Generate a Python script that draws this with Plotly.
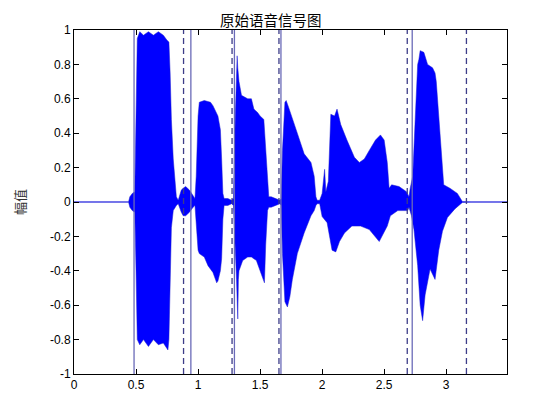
import plotly.graph_objects as go

# Upper envelope of the speech waveform (time s, amplitude)
t_up = [0, 0.44, 0.45, 0.47, 0.49, 0.50, 0.505, 0.51, 0.53, 0.56, 0.60, 0.64, 0.68, 0.72, 0.75, 0.765,
        0.775, 0.785, 0.80, 0.815, 0.825, 0.84, 0.865, 0.88, 0.90, 0.93, 0.96, 0.975, 0.985, 1.0, 1.01,
        1.05, 1.10, 1.12, 1.16, 1.18, 1.19, 1.20, 1.21, 1.24, 1.27, 1.285, 1.30, 1.315, 1.32, 1.33, 1.35,
        1.37, 1.40, 1.43, 1.45, 1.48, 1.50, 1.53, 1.545, 1.56, 1.57, 1.59, 1.62, 1.66, 1.67, 1.68, 1.70,
        1.71, 1.73, 1.76, 1.80, 1.855, 1.91, 1.936, 1.95, 1.96, 1.98, 2.00, 2.02, 2.03, 2.05, 2.07, 2.10,
        2.12, 2.15, 2.20, 2.26, 2.30, 2.34, 2.38, 2.43, 2.47, 2.50, 2.525, 2.54, 2.56, 2.62, 2.68, 2.70,
        2.71, 2.73, 2.75, 2.77, 2.78, 2.79, 2.82, 2.85, 2.89, 2.91, 2.92, 2.94, 2.97, 2.98, 3.03, 3.09,
        3.13, 3.2, 3.49]
v_up = [0.001, 0.001, 0.03, 0.05, 0.06, 0.5, 0.9, 0.95, 0.99, 0.97, 0.99, 0.97, 0.99, 0.97, 0.94, 0.93,
        0.75, 0.48, 0.25, 0.12, 0.03, 0.01, 0.07, 0.08, 0.09, 0.07, 0.04, 0.02, 0.15, 0.5, 0.58,
        0.59, 0.58, 0.56, 0.50, 0.42, 0.25, 0.05, 0.02, 0.02, 0.01, 0.02, 0.5, 0.85, 0.78, 0.70, 0.62,
        0.61, 0.60, 0.60, 0.54, 0.52, 0.50, 0.48, 0.30, 0.08, 0.03, 0.03, 0.02, 0.01, 0.02, 0.3, 0.58,
        0.59, 0.55, 0.48, 0.40, 0.28, 0.23, 0.15, 0.03, 0.01, 0.01, 0.05, 0.19, 0.06, 0.12, 0.51, 0.50,
        0.54, 0.45, 0.36, 0.26, 0.23, 0.25, 0.30, 0.36, 0.39, 0.36, 0.23, 0.08, 0.10, 0.09, 0.06, 0.03,
        0.08, 0.15, 0.48, 0.80, 0.83, 0.88, 0.87, 0.80, 0.78, 0.75, 0.70, 0.48, 0.15, 0.10, 0.08, 0.05,
        0.003, 0.001, 0.001]

# Lower envelope
t_lo = [0, 0.44, 0.45, 0.47, 0.49, 0.50, 0.51, 0.53, 0.56, 0.60, 0.64, 0.68, 0.72, 0.757, 0.765, 0.775,
        0.785, 0.80, 0.825, 0.84, 0.865, 0.88, 0.90, 0.93, 0.96, 0.975, 0.985, 1.00, 1.01, 1.05, 1.08,
        1.12, 1.15, 1.16, 1.18, 1.19, 1.20, 1.21, 1.24, 1.27, 1.285, 1.30, 1.31, 1.32, 1.325, 1.33, 1.36,
        1.40, 1.43, 1.47, 1.51, 1.535, 1.545, 1.56, 1.57, 1.59, 1.62, 1.66, 1.67, 1.68, 1.70, 1.72, 1.74,
        1.76, 1.80, 1.855, 1.91, 1.936, 1.95, 1.96, 1.98, 2.00, 2.04, 2.08, 2.11, 2.14, 2.18, 2.24, 2.31,
        2.38, 2.46, 2.49, 2.525, 2.55, 2.61, 2.69, 2.70, 2.72, 2.74, 2.77, 2.79, 2.81, 2.83, 2.87, 2.91,
        2.94, 2.97, 3.01, 3.07, 3.13, 3.2, 3.49]
v_lo = [-0.001, -0.001, -0.03, -0.05, -0.06, -0.4, -0.80, -0.83, -0.80, -0.84, -0.80, -0.83, -0.82, -0.86, -0.80, -0.5,
        -0.15, -0.05, -0.02, -0.01, -0.06, -0.08, -0.08, -0.06, -0.03, -0.02, -0.12, -0.28, -0.30, -0.32, -0.37,
        -0.41, -0.47, -0.46, -0.40, -0.33, -0.1, -0.02, -0.02, -0.01, -0.02, -0.3, -0.45, -0.68, -0.45, -0.40, -0.34,
        -0.32, -0.32, -0.34, -0.42, -0.47, -0.25, -0.05, -0.03, -0.03, -0.02, -0.01, -0.02, -0.3, -0.58, -0.61, -0.55,
        -0.45, -0.30, -0.18, -0.08, -0.05, -0.02, -0.01, -0.01, -0.085, -0.12, -0.28, -0.29, -0.23, -0.18, -0.14, -0.14,
        -0.16, -0.23, -0.19, -0.14, -0.08, -0.05, -0.05, -0.03, -0.08, -0.16, -0.37, -0.60, -0.69, -0.54, -0.39, -0.45,
        -0.28, -0.17, -0.09, -0.04, -0.003, -0.001, -0.001]

# Endpoint detection markers
starts = [0.484, 0.942, 1.293, 1.668, 2.726]
ends = [0.883, 1.274, 1.652, 2.686, 3.163]

x_ticks = [0, 0.5, 1, 1.5, 2, 2.5, 3]
x_labels = ["0", "0.5", "1", "1.5", "2", "2.5", "3"]
y_ticks = [-1, -0.8, -0.6, -0.4, -0.2, 0, 0.2, 0.4, 0.6, 0.8, 1]
y_labels = ["-1", "-0.8", "-0.6", "-0.4", "-0.2", "0", "0.2", "0.4", "0.6", "0.8", "1"]

fig = go.Figure()
fig.add_trace(go.Scatter(
    x=t_up + t_lo[::-1], y=v_up + v_lo[::-1],
    fill="toself", fillcolor="#0000ff", mode="lines",
    line=dict(color="#1a1ad0", width=0.5), hoverinfo="skip", showlegend=False))

for s in starts:
    fig.add_shape(type="line", xref="x", yref="y", x0=s, x1=s, y0=-1, y1=1,
                  line=dict(color="#6a6ab8", width=1.3))
for e in ends:
    fig.add_shape(type="line", xref="x", yref="y", x0=e, x1=e, y0=-1, y1=1,
                  line=dict(color="#3c3c88", width=1.3, dash="6px,4px"))

axis_common = dict(showline=True, linecolor="black", linewidth=1, mirror="allticks",
                   ticks="inside", ticklen=5, tickcolor="black", showgrid=False, zeroline=False,
                   tickfont=dict(family="Liberation Sans, Arial", size=12, color="black"))

fig.update_xaxes(range=[0, 3.49], tickvals=x_ticks, ticktext=x_labels, **axis_common)
fig.update_yaxes(range=[-1, 1], tickvals=y_ticks, ticktext=y_labels,
                 title=dict(text="幅值", font=dict(family="Noto Sans CJK SC", size=13, color="#333"), standoff=21),
                 **axis_common)

fig.update_layout(
    width=552, height=412,
    margin=dict(l=64, r=53, t=22, b=46),
    paper_bgcolor="white", plot_bgcolor="white",
    title=dict(text="原始语音信号图", x=0.476, xanchor="center", y=0.969, yanchor="middle",
               font=dict(family="Noto Sans CJK SC", size=14.5, color="black")),
)

fig.write_html("out.html")
